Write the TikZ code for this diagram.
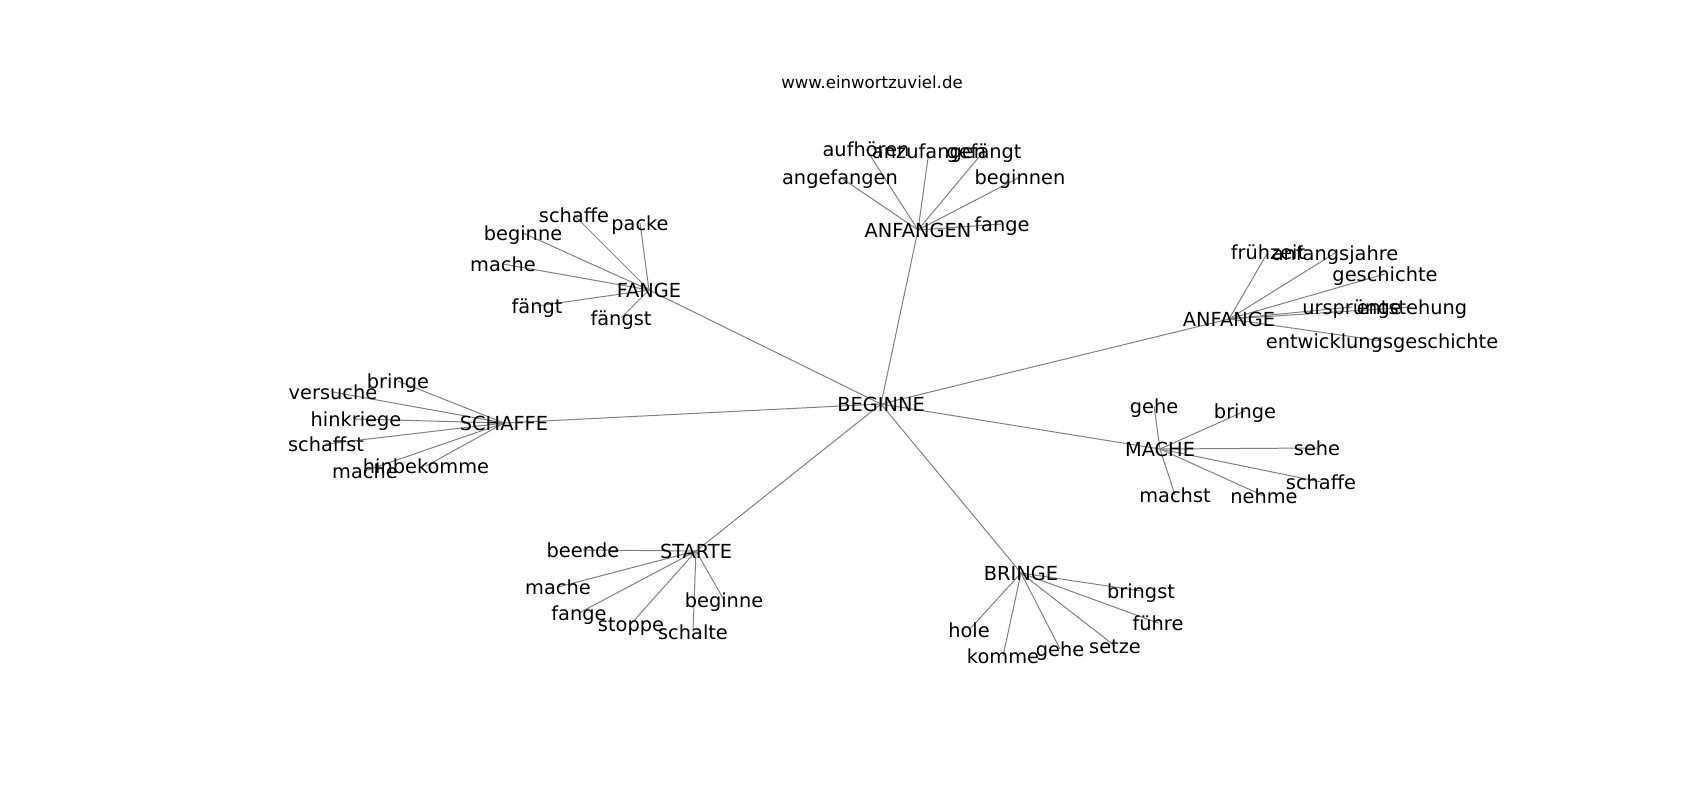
\documentclass[tikz,border=0pt]{standalone}
\usepackage{fontspec}
\setmainfont{DejaVu Sans}
\usetikzlibrary{backgrounds}
\begin{document}
\begin{tikzpicture}[x=0.7227pt,y=-0.7227pt,
  w/.style={inner sep=0pt, text height=1.28em, text depth=0.25em, font=\fontsize{14}{16}\selectfont},
  e/.style={draw=gray, line width=0.72pt}]
\useasboundingbox (0,0) rectangle (1700,800);
\node[anchor=base, inner sep=0pt, font=\fontsize{12}{14}\selectfont] (title) at (872,89) {www.einwortzuviel.de};
% hub
\node[w] (B) at (881,404) {BEGINNE};
% ANFANGEN
\node[w] (AN) at (918,230) {ANFANGEN};
\node[w] (an1) at (866,149) {aufhören};
\node[w] (an2) at (929,151) {anzufangen};
\node[w] (an3) at (984,151) {gefängt};
\node[w] (an4) at (840,177) {angefangen};
\node[w] (an5) at (1020,177) {beginnen};
\node[w] (an6) at (1002,224) {fange};
% FANGE
\node[w] (FA) at (649,290) {FANGE};
\node[w] (fa1) at (574,215) {schaffe};
\node[w] (fa2) at (640,223) {packe};
\node[w] (fa3) at (523,233) {beginne};
\node[w] (fa4) at (503,264) {mache};
\node[w] (fa5) at (537,306) {fängt};
\node[w] (fa6) at (621,318) {fängst};
% ANFANGE
\node[w] (AE) at (1229,319) {ANFANGE};
\node[w] (ae1) at (1268,252) {frühzeit};
\node[w] (ae2) at (1335,253) {anfangsjahre};
\node[w] (ae3) at (1385,274) {geschichte};
\node[w] (ae4) at (1352,307) {ursprünge};
\node[w] (ae5) at (1412,307) {entstehung};
\node[w] (ae6) at (1382,341) {entwicklungsgeschichte};
% SCHAFFE
\node[w] (SC) at (504,423) {SCHAFFE};
\node[w] (sc1) at (398,381) {bringe};
\node[w] (sc2) at (333,392) {versuche};
\node[w] (sc3) at (356,419) {hinkriege};
\node[w] (sc4) at (326,444) {schaffst};
\node[w] (sc5) at (426,466) {hinbekomme};
\node[w] (sc6) at (365,471) {mache};
% MACHE
\node[w] (MA) at (1160,449) {MACHE};
\node[w] (ma1) at (1154,406) {gehe};
\node[w] (ma2) at (1245,411) {bringe};
\node[w] (ma3) at (1317,448) {sehe};
\node[w] (ma4) at (1321,482) {schaffe};
\node[w] (ma5) at (1175,495) {machst};
\node[w] (ma6) at (1264,496) {nehme};
% STARTE
\node[w] (ST) at (696,551) {STARTE};
\node[w] (st1) at (583,550) {beende};
\node[w] (st2) at (558,587) {mache};
\node[w] (st3) at (579,613) {fange};
\node[w] (st4) at (631,624) {stoppe};
\node[w] (st5) at (693,632) {schalte};
\node[w] (st6) at (724,600) {beginne};
% BRINGE
\node[w] (BR) at (1021,573) {BRINGE};
\node[w] (br1) at (1141,591) {bringst};
\node[w] (br2) at (1158,623) {führe};
\node[w] (br3) at (1115,646) {setze};
\node[w] (br4) at (1060,649) {gehe};
\node[w] (br5) at (1003,656) {komme};
\node[w] (br6) at (969,630) {hole};
\begin{scope}[on background layer]
\fill[white] (0,0) rectangle (1700,800);
\foreach \h/\l in {B/AN,B/FA,B/AE,B/SC,B/MA,B/ST,B/BR,
  AN/an1,AN/an2,AN/an3,AN/an4,AN/an5,AN/an6,
  FA/fa1,FA/fa2,FA/fa3,FA/fa4,FA/fa5,FA/fa6,
  AE/ae1,AE/ae2,AE/ae3,AE/ae4,AE/ae5,AE/ae6,
  SC/sc1,SC/sc2,SC/sc3,SC/sc4,SC/sc5,SC/sc6,
  MA/ma1,MA/ma2,MA/ma3,MA/ma4,MA/ma5,MA/ma6,
  ST/st1,ST/st2,ST/st3,ST/st4,ST/st5,ST/st6,
  BR/br1,BR/br2,BR/br3,BR/br4,BR/br5,BR/br6}
  \draw[e] (\h.center) -- (\l.center);
\end{scope}
\end{tikzpicture}
\end{document}
